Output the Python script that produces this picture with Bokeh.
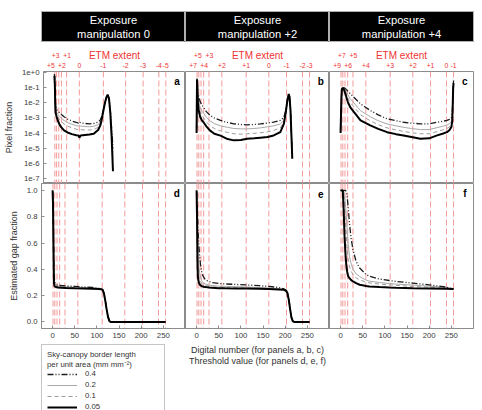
from bokeh.plotting import figure
from bokeh.models import (Range1d, FixedTicker, LinearAxis, Span, Label,
                          Legend, LegendItem, AllLabels, PrintfTickFormatter)
from bokeh.layouts import row, column
from bokeh.embed import file_html
from bokeh.resources import INLINE

FONT = "Liberation Sans"
RED = "#ee3434"
ETM_COLOR = "#f29a9a"
AXIS_GRAY = "#8c8c8c"
TICK_TEXT = "#3c3c3c"

# ---------------- data ----------------
# ETM (exposure) reference lines, in digital-number units, and their stop labels
ETM_DN = [1, 5, 10, 16, 28, 57, 112, 163, 203, 239, 255]
STOPS_A = ["+5", "+4", "+3", "+2", "+1", "0", "-1", "-2", "-3", "-4", "-5"]
STOPS_B = ["+7", "+6", "+5", "+4", "+3", "+2", "+1", "0", "-1", "-2", "-3"]
STOPS_C = ["+9", "+8", "+7", "+6", "+5", "+4", "+3", "+2", "+1", "0", "-1"]
HEADERS = ["Exposure\nmanipulation 0", "Exposure\nmanipulation +2", "Exposure\nmanipulation +4"]
PANEL_LETTERS = ["a", "b", "c", "d", "e", "f"]
BORDER_LEVELS = ["0.4", "0.2", "0.1", "0.05"]
X_TITLE = "Digital number (for panels a, b, c)\nThreshold value (for panels d, e, f)"

X_TICKS = [0, 50, 100, 150, 200, 250]
LOG_TICKS = [1.0, 1e-1, 1e-2, 1e-3, 1e-4, 1e-5, 1e-6, 1e-7]
LOG_TICK_LABELS = ["1e+0", "1e-1", "1e-2", "1e-3", "1e-4", "1e-5", "1e-6", "1e-7"]
GAP_TICKS = [0.0, 0.2, 0.4, 0.6, 0.8, 1.0]

# pixel-fraction histograms, exposure 0
DN_A = [0, 1, 2, 3, 5, 8, 12, 16, 22, 30, 40, 50, 55, 57, 60, 70, 80, 90, 100, 105,
        108, 112, 116, 119, 122, 125, 128, 131, 134]
A_04 = [0.8, 0.2, 1.2e-2, 6e-3, 3.5e-3, 2.8e-3, 2.2e-3, 1.7e-3, 1.2e-3, 8.5e-4, 6.3e-4,
        5e-4, 4.6e-4, 5.5e-4, 4.7e-4, 4.3e-4, 4.1e-4, 4.3e-4, 5.2e-4, 7.5e-4, 1.2e-3,
        3.5e-3, 1.2e-2, 2.3e-2, 3.3e-2, 2e-2, 3e-3, 2e-4, 1e-5]
A_02 = [0.75, 0.18, 9e-3, 4e-3, 2.4e-3, 1.7e-3, 1.25e-3, 9.5e-4, 6.8e-4, 5e-4, 3.8e-4,
        3.1e-4, 2.9e-4, 3.3e-4, 2.9e-4, 2.7e-4, 2.6e-4, 2.8e-4, 3.5e-4, 5.5e-4, 1e-3,
        3.2e-3, 1.15e-2, 2.3e-2, 3.3e-2, 1.9e-2, 2.6e-3, 1.2e-4, 4e-6]
A_01 = [0.7, 0.16, 7e-3, 3e-3, 1.8e-3, 1.15e-3, 7.5e-4, 5.5e-4, 4e-4, 2.9e-4, 2.2e-4,
        1.8e-4, 1.7e-4, 1.6e-4, 1.7e-4, 1.6e-4, 1.6e-4, 1.7e-4, 2.4e-4, 4.2e-4, 8.5e-4,
        3e-3, 1.1e-2, 2.3e-2, 3.3e-2, 1.85e-2, 2.3e-3, 8e-5, 1.5e-6]
A_005 = [0.6, 0.15, 5e-3, 2e-3, 1.2e-3, 6.5e-4, 3.5e-4, 2.4e-4, 1.5e-4, 1.1e-4, 8.5e-5,
         7.2e-5, 7e-5, 5e-5, 7e-5, 7.5e-5, 8e-5, 9e-5, 1.6e-4, 3.2e-4, 7e-4, 3e-3,
         1.1e-2, 2.3e-2, 3.4e-2, 1.8e-2, 2e-3, 5e-5, 3e-7]

# exposure +2
DN_B = [0, 1, 2, 3, 5, 8, 12, 16, 22, 30, 40, 54, 70, 84, 100, 114, 130, 144, 160, 174,
        189, 197, 201, 205, 208, 210, 212, 214, 216]
B_04 = [2e-4, 0.4, 0.15, 5e-2, 2.4e-2, 1.2e-2, 7e-3, 5e-3, 2.6e-3, 1.5e-3, 1e-3, 6.8e-4,
        5e-4, 4.1e-4, 3.7e-4, 3.5e-4, 3.7e-4, 4e-4, 4.6e-4, 5.3e-4, 6.8e-4, 1.1e-3, 3e-3,
        1.2e-2, 3.5e-2, 2.5e-2, 4e-3, 1e-4, 3e-6]
B_02 = [1.5e-4, 0.38, 0.1, 3e-2, 1.2e-2, 5e-3, 2.8e-3, 2e-3, 1.1e-3, 6.5e-4, 4.2e-4, 3e-4,
        2.4e-4, 2e-4, 1.9e-4, 1.9e-4, 2e-4, 2.2e-4, 2.6e-4, 3e-4, 4e-4, 7e-4, 2.5e-3,
        1.3e-2, 3.6e-2, 2.4e-2, 3.6e-3, 9e-5, 2.5e-6]
B_01 = [1.2e-4, 0.36, 7e-2, 1.8e-2, 6e-3, 2.5e-3, 1.4e-3, 1e-3, 5.5e-4, 3.2e-4, 2e-4,
        1.4e-4, 1.1e-4, 9e-5, 8.5e-5, 9e-5, 9.5e-5, 1.05e-4, 1.2e-4, 1.5e-4, 2.2e-4,
        5.5e-4, 2.2e-3, 1.4e-2, 3.7e-2, 2.3e-2, 3.3e-3, 8.5e-5, 2.2e-6]
B_005 = [1e-4, 0.35, 5e-2, 1e-2, 3e-3, 1.2e-3, 7e-4, 5e-4, 2.8e-4, 1.5e-4, 9e-5, 6.8e-5,
         4e-5, 3.3e-5, 3.5e-5, 4.2e-5, 4.6e-5, 5e-5, 5.5e-5, 7e-5, 1.15e-4, 4e-4, 2e-3,
         1.5e-2, 3.8e-2, 2.2e-2, 3e-3, 8e-5, 2e-6]

# exposure +4
DN_C = [0, 1, 2, 3, 5, 8, 12, 16, 22, 30, 45, 67, 85, 105, 125, 142, 160, 180, 200, 218,
        230, 240, 246, 250, 252, 253, 254, 255]
C_04 = [2e-4, 3e-3, 3e-2, 0.09, 0.1, 0.1, 0.08, 6e-2, 4e-2, 2.3e-2, 8.5e-3, 3.1e-3,
        1.6e-3, 8.7e-4, 6.5e-4, 5.2e-4, 4.5e-4, 4.1e-4, 4e-4, 5.2e-4, 6e-4, 6.8e-4, 8e-4,
        1.1e-3, 2e-3, 1e-2, 0.1, 0.3]
C_02 = [1.5e-4, 2.5e-3, 2.5e-2, 0.085, 0.1, 0.09, 0.06, 3.5e-2, 1.8e-2, 1e-2, 3e-3,
        1.2e-3, 6.5e-4, 4e-4, 3e-4, 2.4e-4, 2e-4, 1.7e-4, 1.7e-4, 2.3e-4, 2.8e-4, 3.4e-4,
        4.2e-4, 6e-4, 1.2e-3, 8e-3, 0.09, 0.25]
C_01 = [1.2e-4, 2.2e-3, 2.2e-2, 0.082, 0.1, 0.08, 0.045, 2.2e-2, 1e-2, 5.5e-3, 1.6e-3,
        6.5e-4, 3.6e-4, 2.2e-4, 1.6e-4, 1.3e-4, 1.05e-4, 9e-5, 9e-5, 1.25e-4, 1.6e-4, 2e-4,
        2.6e-4, 4e-4, 9e-4, 6.5e-3, 0.085, 0.22]
C_005 = [1e-4, 2e-3, 2e-2, 0.08, 0.1, 0.07, 3e-2, 1.2e-2, 5e-3, 2.5e-3, 7e-4, 3.2e-4,
         1.9e-4, 1.15e-4, 8.5e-5, 7e-5, 5.5e-5, 4.2e-5, 4.5e-5, 7e-5, 9e-5, 1.15e-4,
         1.6e-4, 2.5e-4, 6e-4, 5e-3, 8e-2, 0.2]

# estimated gap fraction against threshold
TH_D = [0, 1, 2, 3, 4, 5, 8, 12, 20, 30, 50, 70, 90, 105, 110, 113, 116, 119, 122, 125,
        128, 131, 140, 200, 255]
D_04 = [1.0, 0.95, 0.7, 0.42, 0.33, 0.3, 0.285, 0.28, 0.277, 0.274, 0.27, 0.266, 0.262,
        0.256, 0.252, 0.246, 0.22, 0.165, 0.1, 0.043, 0.01, 0.001, 0.0, 0.0, 0.0]
D_02 = [1.0, 0.93, 0.65, 0.37, 0.31, 0.29, 0.278, 0.273, 0.27, 0.267, 0.264, 0.261, 0.258,
        0.253, 0.25, 0.245, 0.218, 0.163, 0.098, 0.042, 0.009, 0.0, 0.0, 0.0, 0.0]
D_01 = [1.0, 0.92, 0.6, 0.33, 0.29, 0.28, 0.272, 0.268, 0.265, 0.262, 0.26, 0.258, 0.256,
        0.252, 0.249, 0.244, 0.216, 0.161, 0.096, 0.041, 0.008, 0.0, 0.0, 0.0, 0.0]
D_005 = [1.0, 0.9, 0.55, 0.3, 0.275, 0.27, 0.265, 0.262, 0.26, 0.258, 0.256, 0.255, 0.253,
         0.25, 0.248, 0.243, 0.215, 0.16, 0.095, 0.04, 0.008, 0.0, 0.0, 0.0, 0.0]

TH_E = [0, 1, 2, 3, 5, 7, 9, 12, 16, 20, 28, 35, 50, 65, 90, 110, 140, 163, 185, 197,
        202, 205, 208, 211, 214, 217, 220, 240, 255]
E_04 = [1.0, 0.95, 0.85, 0.72, 0.58, 0.5, 0.43, 0.37, 0.34, 0.32, 0.308, 0.3, 0.293,
        0.289, 0.285, 0.282, 0.276, 0.27, 0.262, 0.252, 0.243, 0.226, 0.178, 0.108, 0.04,
        0.008, 0.001, 0.0, 0.0]
E_02 = [1.0, 0.9, 0.7, 0.55, 0.42, 0.37, 0.34, 0.31, 0.295, 0.288, 0.28, 0.277, 0.272,
        0.27, 0.268, 0.266, 0.262, 0.258, 0.254, 0.248, 0.24, 0.223, 0.175, 0.105, 0.038,
        0.007, 0.0, 0.0, 0.0]
E_01 = [1.0, 0.85, 0.58, 0.43, 0.35, 0.32, 0.305, 0.292, 0.283, 0.277, 0.271, 0.268,
        0.264, 0.262, 0.26, 0.259, 0.257, 0.254, 0.25, 0.246, 0.238, 0.221, 0.172, 0.102,
        0.036, 0.006, 0.0, 0.0, 0.0]
E_005 = [1.0, 0.8, 0.45, 0.34, 0.3, 0.285, 0.278, 0.272, 0.268, 0.265, 0.262, 0.26, 0.257,
         0.256, 0.255, 0.255, 0.253, 0.25, 0.247, 0.244, 0.236, 0.22, 0.17, 0.1, 0.035,
         0.006, 0.0, 0.0, 0.0]

TH_F = [0, 3, 5, 7, 9, 11, 13, 15, 17, 20, 24, 28, 35, 43, 58, 65, 88, 110, 125, 163,
        200, 238, 255]
F_04 = [1.0, 1.0, 1.0, 1.0, 1.0, 1.0, 0.99, 0.95, 0.88, 0.753, 0.63, 0.55, 0.46, 0.41,
        0.36, 0.348, 0.326, 0.315, 0.308, 0.295, 0.282, 0.265, 0.25]
F_02 = [1.0, 1.0, 1.0, 1.0, 0.97, 0.9, 0.8, 0.7, 0.6, 0.5, 0.44, 0.4, 0.365, 0.345, 0.318,
        0.31, 0.3, 0.292, 0.288, 0.28, 0.272, 0.262, 0.25]
F_01 = [1.0, 1.0, 1.0, 0.98, 0.9, 0.78, 0.65, 0.55, 0.48, 0.42, 0.385, 0.36, 0.335, 0.32,
        0.302, 0.297, 0.288, 0.282, 0.278, 0.27, 0.264, 0.258, 0.25]
F_005 = [1.0, 1.0, 1.0, 0.85, 0.65, 0.52, 0.43, 0.38, 0.35, 0.333, 0.318, 0.308, 0.295,
         0.283, 0.274, 0.27, 0.265, 0.262, 0.26, 0.257, 0.255, 0.252, 0.25]

# ---------------- styling ----------------
LINE_STYLE = {
    "0.4": dict(line_color="#1c1c1c", line_width=1.3, line_dash="6 2 1 2 1 2"),
    "0.2": dict(line_color="#a8a8a8", line_width=1.0),
    "0.1": dict(line_color="#9a9a9a", line_width=1.0, line_dash="4 3"),
    "0.05": dict(line_color="black", line_width=2.0),
}
DRAW_ORDER = ["0.2", "0.1", "0.4", "0.05"]

X_RANGE = (-25, 300)
LOG_EXP = (-7.33, 0.066)
LOG_RANGE = (10 ** LOG_EXP[0], 10 ** LOG_EXP[1])
GAP_RANGE = (-0.05, 1.053)
FRAME_W = 144
PAGE_W = 482


def borders(col):
    return (41 if col == 0 else 0), (9 if col == 2 else 0)


def style_axis(ax):
    ax.axis_line_color = AXIS_GRAY
    ax.major_tick_line_color = AXIS_GRAY
    ax.major_tick_in = 3
    ax.major_tick_out = 0
    ax.minor_tick_line_color = None
    ax.major_label_text_font = FONT
    ax.major_label_text_color = TICK_TEXT
    ax.major_label_text_font_size = "7.8px"
    ax.major_label_standoff = 4
    ax.axis_label_text_font = FONT
    ax.axis_label_text_font_style = "normal"
    ax.axis_label_text_color = "#333333"
    ax.axis_label_text_font_size = "9px"


def bare_figure(**kw):
    p = figure(title=None, toolbar_location=None, output_backend="svg",
               x_axis_location=None, y_axis_location=None, **kw)
    p.grid.visible = False
    p.border_fill_color = "white"
    return p


def make_header(col):
    left, right = borders(col)
    h = bare_figure(width=left + FRAME_W + right, height=42, x_range=Range1d(0, 1),
                    y_range=Range1d(0, 1), min_border_left=left, min_border_right=right,
                    min_border_top=11, min_border_bottom=0)
    h.background_fill_color = "black"
    h.outline_line_color = "#b0b0b0"
    h.add_layout(Label(x=0.5, y=0.5, text=HEADERS[col], text_align="center",
                       text_baseline="middle", text_color="white", text_font=FONT,
                       text_font_size="11.2px", text_line_height=1.1))
    return h


def make_panel(upper, col):
    left, right = borders(col)
    yloc = "left" if col == 0 else None
    width = left + FRAME_W + right
    if upper:
        p = figure(width=width, height=29 + 112, x_range=Range1d(*X_RANGE),
                   y_range=Range1d(*LOG_RANGE), y_axis_type="log", x_axis_location=None,
                   y_axis_location=yloc, min_border_left=left, min_border_right=right,
                   min_border_top=29, min_border_bottom=0, title=None,
                   toolbar_location=None, output_backend="svg")
    else:
        p = figure(width=width, height=145 + 15, x_range=Range1d(*X_RANGE),
                   y_range=Range1d(*GAP_RANGE), y_axis_location=yloc,
                   min_border_left=left, min_border_right=right, min_border_top=0,
                   min_border_bottom=15, title=None, toolbar_location=None,
                   output_backend="svg")
    p.grid.visible = False
    p.outline_line_color = AXIS_GRAY
    p.outline_line_width = 1
    p.background_fill_color = "white"
    p.border_fill_color = "white"
    if col == 0:
        yax = p.yaxis[0]
        style_axis(yax)
        if upper:
            yax.ticker = FixedTicker(ticks=LOG_TICKS)
            yax.major_label_overrides = dict(zip(LOG_TICKS, LOG_TICK_LABELS))
            yax.axis_label = "Pixel fraction"
        else:
            yax.ticker = FixedTicker(ticks=GAP_TICKS)
            yax.formatter = PrintfTickFormatter(format="%.1f")
            yax.axis_label = "Estimated gap fraction"
    if not upper:
        xax = p.xaxis[0]
        style_axis(xax)
        xax.ticker = FixedTicker(ticks=X_TICKS)
    # ETM reference lines
    for dn in ETM_DN:
        p.add_layout(Span(location=dn, dimension="height", line_color=ETM_COLOR,
                          line_dash="6 3", line_width=1, level="underlay"))
    return p


def add_letter(p, letter, upper):
    if upper:
        y = 10 ** (LOG_EXP[1] - 0.09 * (LOG_EXP[1] - LOG_EXP[0]))
    else:
        y = GAP_RANGE[1] - 0.07 * (GAP_RANGE[1] - GAP_RANGE[0])
    x = X_RANGE[1] - 0.06 * (X_RANGE[1] - X_RANGE[0])
    p.add_layout(Label(x=x, y=y, text=letter, text_font=FONT, text_font_style="bold",
                       text_font_size="10px", text_align="center",
                       text_baseline="middle", text_color="black"))


def add_etm_rows(p, stops):
    # crowded labels at the dark end are nudged sideways and split over two rows
    nudge = {0: -9, 2: -7, 3: 1, 4: 1}
    lower_idx = [0, 3, 5, 6, 7, 8, 9, 10]
    upper_idx = [2, 4]

    def row_axis(idx, standoff):
        pos = [float(ETM_DN[i] + nudge.get(i, 0)) for i in idx]
        return LinearAxis(ticker=FixedTicker(ticks=pos),
                          major_label_overrides={q: stops[i] for q, i in zip(pos, idx)},
                          major_label_policy=AllLabels(),
                          axis_line_color=None, major_tick_line_color=None,
                          minor_tick_line_color=None, major_tick_in=0, major_tick_out=0,
                          major_label_text_color=RED, major_label_text_font=FONT,
                          major_label_text_font_size="6.8px",
                          major_label_standoff=standoff)

    p.add_layout(row_axis(lower_idx, 4), "above")
    up = row_axis(upper_idx, 2)
    up.axis_label = "ETM extent"
    up.axis_label_text_color = RED
    up.axis_label_text_font = FONT
    up.axis_label_text_font_style = "normal"
    up.axis_label_text_font_size = "10px"
    up.axis_label_standoff = -11
    p.add_layout(up, "above")


headers, uppers, lowers = [], [], []
upper_data = [(DN_A, [A_04, A_02, A_01, A_005]),
              (DN_B, [B_04, B_02, B_01, B_005]),
              (DN_C, [C_04, C_02, C_01, C_005])]
lower_data = [(TH_D, [D_04, D_02, D_01, D_005]),
              (TH_E, [E_04, E_02, E_01, E_005]),
              (TH_F, [F_04, F_02, F_01, F_005])]
stops_all = [STOPS_A, STOPS_B, STOPS_C]

for col in range(3):
    headers.append(make_header(col))

    pu = make_panel(True, col)
    xs, series = upper_data[col]
    vals = dict(zip(BORDER_LEVELS, series))
    for lvl in DRAW_ORDER:
        pu.line(xs, vals[lvl], **LINE_STYLE[lvl])
    add_letter(pu, PANEL_LETTERS[col], True)
    add_etm_rows(pu, stops_all[col])
    uppers.append(pu)

    pl = make_panel(False, col)
    xs, series = lower_data[col]
    vals = dict(zip(BORDER_LEVELS, series))
    for lvl in DRAW_ORDER:
        pl.line(xs, vals[lvl], **LINE_STYLE[lvl])
    add_letter(pl, PANEL_LETTERS[col + 3], False)
    lowers.append(pl)

# bottom strip: shared x-axis title and the legend box (its lower edge runs off the page)
KEY_H = 67
KEY_LEFT = 40
key = bare_figure(width=PAGE_W, height=KEY_H, x_range=Range1d(KEY_LEFT, PAGE_W),
                  y_range=Range1d(0, KEY_H), min_border_left=KEY_LEFT, min_border_right=0,
                  min_border_top=0, min_border_bottom=0)
key.outline_line_color = None
key.background_fill_color = "white"
e_centre = 41 + FRAME_W + FRAME_W / 2
key.add_layout(Label(x=e_centre, y=KEY_H - 12, text=X_TITLE, text_align="center",
                     text_baseline="middle", text_font=FONT, text_font_size="9px",
                     text_color="#333333", text_line_height=1.15))
nan = float("nan")
key_items = [LegendItem(label=lvl, renderers=[key.line([nan], [nan], **LINE_STYLE[lvl])])
             for lvl in BORDER_LEVELS]
legend = Legend(
    items=key_items,
    title="Sky-canopy border length\nper unit area (mm mm\u207b\u00b2)",
    title_text_font=FONT, title_text_font_style="normal", title_text_font_size="7.8px",
    title_text_color="#333333", title_text_line_height=1.05, title_standoff=-3,
    label_text_font=FONT, label_text_font_size="7.8px", label_text_color="#333333",
    glyph_width=30, glyph_height=8, label_height=8, label_width=74, label_standoff=8,
    spacing=2, padding=5, margin=1, location="top_left", border_line_color=AXIS_GRAY,
    background_fill_color="white", background_fill_alpha=1.0)
key.add_layout(legend, "center")

layout = column(row(*headers), row(*uppers), row(*lowers), key)

with open("out.html", "w") as fh:
    fh.write(file_html(layout, INLINE))
